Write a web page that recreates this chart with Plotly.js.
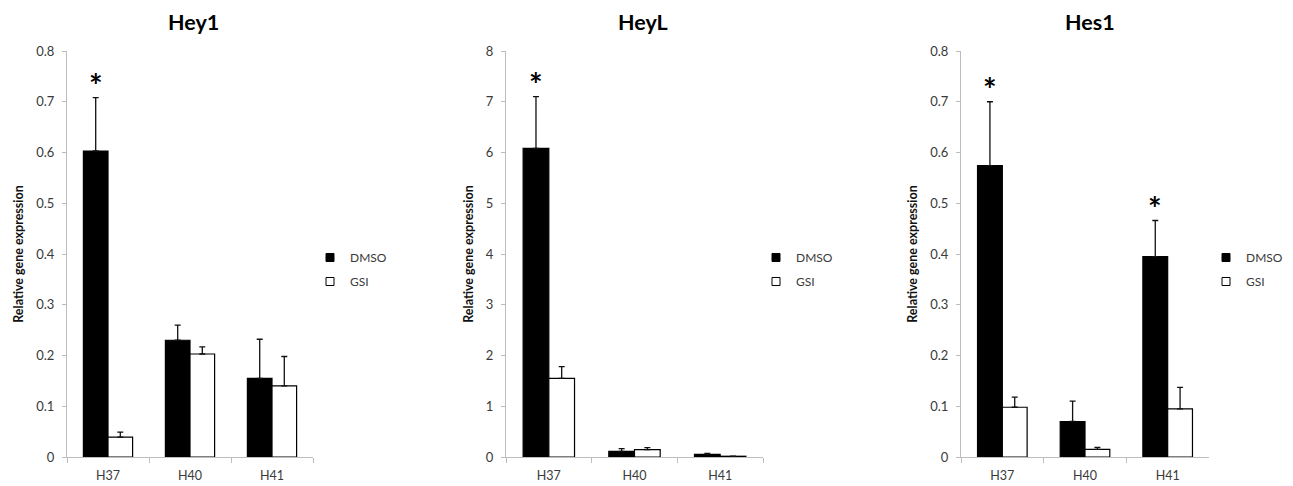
<!DOCTYPE html>
<html>
<head>
<meta charset="utf-8">
<script src="https://cdn.plot.ly/plotly-3.0.1.min.js"></script>
<style>html,body{margin:0;padding:0;background:#fff;}#chart{width:1293px;height:486px;}</style>
</head>
<body>
<div id="chart"></div>
<script>
// ---- data ----
const categories = ['H37', 'H40', 'H41'];
const seriesNames = ['DMSO', 'GSI'];
const panelTitles = ['Hey1', 'HeyL', 'Hes1'];
const yAxisTitle = 'Relative gene expression';

const hey1Dmso = [0.603, 0.230, 0.155];
const hey1DmsoErr = [0.105, 0.030, 0.077];
const hey1Gsi = [0.039, 0.203, 0.140];
const hey1GsiErr = [0.010, 0.014, 0.058];
const hey1Sig = ['H37'];

const heyLDmso = [6.08, 0.11, 0.05];
const heyLDmsoErr = [1.02, 0.055, 0.02];
const heyLGsi = [1.55, 0.145, 0.015];
const heyLGsiErr = [0.23, 0.04, 0.0];
const heyLSig = ['H37'];

const hes1Dmso = [0.574, 0.070, 0.395];
const hes1DmsoErr = [0.126, 0.040, 0.071];
const hes1Gsi = [0.098, 0.015, 0.095];
const hes1GsiErr = [0.020, 0.004, 0.042];
const hes1Sig = ['H37', 'H41'];

const yRanges = [[0, 0.8], [0, 8], [0, 0.8]];
const yDticks = [0.1, 1, 0.1];

// ---- build ----
const FONT = 'Lato, "Open Sans", sans-serif';
const AXIS_COLOR = '#bdbdbd';
const TEXT_COLOR = '#3a3a3a';

const panels = [
  {dmso: hey1Dmso, dmsoErr: hey1DmsoErr, gsi: hey1Gsi, gsiErr: hey1GsiErr, sig: hey1Sig},
  {dmso: heyLDmso, dmsoErr: heyLDmsoErr, gsi: heyLGsi, gsiErr: heyLGsiErr, sig: heyLSig},
  {dmso: hes1Dmso, dmsoErr: hes1DmsoErr, gsi: hes1Gsi, gsiErr: hes1GsiErr, sig: hes1Sig}
];

const W = 1293, H = 486;
const xDomainsPx = [[67, 313], [506, 763], [961, 1209]];
const titleXPx = [193, 643, 1090];
const legendXPx = [310, 756, 1206];
const mT = 51, mB = 29;
const plotH = H - mT - mB;

const data = [];
const layout = {
  width: W, height: H,
  margin: {l: 0, r: 0, t: mT, b: mB, pad: 0},
  paper_bgcolor: '#ffffff', plot_bgcolor: '#ffffff',
  barmode: 'group', bargap: 0.4, bargroupgap: 0,
  font: {family: FONT, size: 12, color: TEXT_COLOR},
  showlegend: true,
  annotations: []
};

panels.forEach((p, i) => {
  const n = i === 0 ? '' : String(i + 1);
  const xa = 'x' + n, ya = 'y' + n;
  const legendId = 'legend' + n;
  const errStyle = {type: 'data', symmetric: false, arrayminus: [0, 0, 0], color: '#111', thickness: 1.3, width: 3};
  data.push({
    type: 'bar', x: categories, y: p.dmso, name: seriesNames[0], xaxis: xa, yaxis: ya,
    marker: {color: '#000000', line: {color: '#000000', width: 1.2}},
    error_y: Object.assign({}, errStyle, {array: p.dmsoErr}),
    showlegend: false, hoverinfo: 'x+y'
  });
  data.push({
    type: 'bar', x: categories, y: p.gsi, name: seriesNames[1], xaxis: xa, yaxis: ya,
    marker: {color: '#ffffff', line: {color: '#000000', width: 1.2}},
    error_y: Object.assign({}, errStyle, {array: p.gsiErr}),
    showlegend: false, hoverinfo: 'x+y'
  });
  // legend entries (small square swatches)
  ['#000000', '#ffffff'].forEach((c, k) => {
    data.push({
      type: 'scatter', mode: 'markers', x: [null], y: [null], xaxis: xa, yaxis: ya,
      name: seriesNames[k], legend: legendId, legendgroup: seriesNames[k] + i,
      marker: {symbol: 'square', size: 8, color: c, line: {color: '#000', width: 1}},
      showlegend: true, hoverinfo: 'skip'
    });
  });

  const d = xDomainsPx[i];
  layout['xaxis' + n] = {
    domain: [d[0] / W, d[1] / W], anchor: ya, type: 'category',
    showline: true, linecolor: AXIS_COLOR, linewidth: 1,
    ticks: 'outside', tickson: 'boundaries', ticklen: 5, tickcolor: AXIS_COLOR,
    ticklabelstandoff: 7,
    showgrid: false, zeroline: false, fixedrange: true,
    tickfont: {family: FONT, size: 12.5, color: TEXT_COLOR}
  };
  layout['yaxis' + n] = {
    domain: [0, 1], anchor: xa, range: yRanges[i], dtick: yDticks[i], tick0: 0,
    showline: true, linecolor: AXIS_COLOR, linewidth: 1,
    ticks: 'outside', ticklen: 4, tickcolor: AXIS_COLOR,
    ticklabelstandoff: 5,
    showgrid: false, zeroline: false, fixedrange: true,
    tickfont: {family: FONT, size: 13, color: TEXT_COLOR},
    title: {text: yAxisTitle, font: {family: FONT, size: 12.5, color: '#111', weight: 'bold'}, standoff: 9}
  };
  layout[legendId] = {
    x: legendXPx[i] / W, xanchor: 'left', y: (H - mB - 243) / plotH, yanchor: 'top',
    bgcolor: 'rgba(0,0,0,0)', borderwidth: 0, tracegroupgap: 5,
    font: {family: FONT, size: 12, color: TEXT_COLOR}, itemclick: false, itemdoubleclick: false
  };
  // panel title
  layout.annotations.push({
    text: '<b>' + panelTitles[i] + '</b>', xref: 'paper', yref: 'paper',
    x: titleXPx[i] / W, y: (H - mB - 22) / plotH, xanchor: 'center', yanchor: 'middle',
    showarrow: false, font: {family: FONT, size: 21.5, color: '#000'}
  });
  // significance asterisks above DMSO bars
  p.sig.forEach(cat => {
    const j = categories.indexOf(cat);
    layout.annotations.push({
      text: '<b>*</b>', xref: xa, yref: ya, x: j - 0.15, y: p.dmso[j] + p.dmsoErr[j],
      xanchor: 'center', yanchor: 'bottom', yshift: -9, showarrow: false,
      font: {family: FONT, size: 32, color: '#000'}
    });
  });
});

Plotly.newPlot('chart', data, layout, {displayModeBar: false, staticPlot: true});
</script>
</body>
</html>
